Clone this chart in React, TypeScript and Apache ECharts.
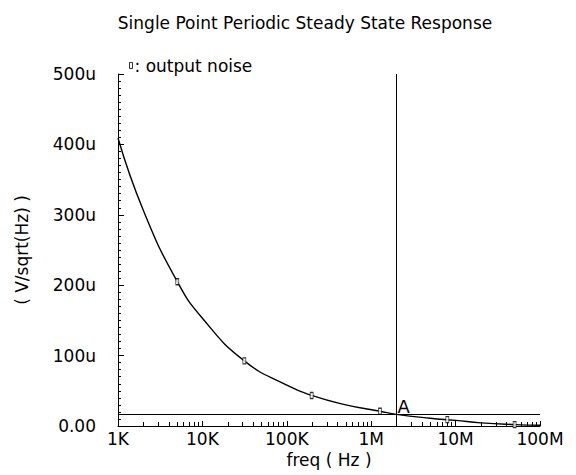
import React, { useEffect, useRef } from "react";
import * as echarts from "echarts";

// frequency (Hz) and output noise (uV/sqrt(Hz))
const curveFreq = [1e3, 2e3, 5.04e3, 1e4, 3.14e4, 1e5, 1.97e5, 5e5, 1.27e6, 2e6, 5e6, 1e7, 2e7, 5e7, 1e8];
const curveNoise = [409, 306, 205, 153, 92.5, 58, 43.4, 30, 21, 16.5, 11, 8, 4.5, 2, 1];
const markerFreq = [5.04e3, 3.14e4, 1.97e5, 1.27e6, 7.98e6, 5e7];
const markerNoise = [205, 92.5, 43.4, 21, 9, 2];
const cursorFreq = 2e6;
const cursorNoise = 16;
const xTickValues = [1e3, 1e4, 1e5, 1e6, 1e7, 1e8];
const xTickLabels = ["1K", "10K", "100K", "1M", "10M", "100M"];

const FONT = "DejaVu Sans";

export default function App() {
  const ref = useRef<HTMLDivElement>(null);
  useEffect(() => {
    if (!ref.current) return;
    const chart = echarts.init(ref.current, undefined, { renderer: "svg" });
    const curve = curveFreq.map((f, i) => [f, curveNoise[i]]);
    const markers = markerFreq.map((f, i) => [f, markerNoise[i]]);
    chart.setOption({
      animation: false,
      backgroundColor: "#ffffff",
      title: {
        text: "Single Point Periodic Steady State Response",
        left: 300,
        top: 9,
        textAlign: "center",
        textStyle: { fontFamily: FONT, fontSize: 17, fontWeight: "normal", color: "#000" },
      },
      legend: {
        data: ["output noise"],
        left: 124,
        top: 52,
        icon: "rect",
        itemWidth: 3,
        itemHeight: 6,
        itemGap: 2,
        formatter: (name: string) => ": " + name,
        itemStyle: { color: "#fff", borderColor: "#000", borderWidth: 1 },
        textStyle: { fontFamily: FONT, fontSize: 17, color: "#000", padding: [0, 0, 0, -3] },
      },
      grid: { left: 118, right: 36, top: 74, bottom: 49 },
      xAxis: {
        type: "log",
        logBase: 10,
        min: 1e3,
        max: 1e8,
        name: "freq ( Hz )",
        nameLocation: "middle",
        nameGap: 24,
        nameTextStyle: { fontFamily: FONT, fontSize: 17, color: "#000" },
        axisLine: { lineStyle: { color: "#000", width: 1 } },
        axisTick: { inside: true, length: 5, lineStyle: { color: "#000" } },
        minorTick: { show: true, splitNumber: 9, length: 4, lineStyle: { color: "#000" } },
        splitLine: { show: false },
        axisLabel: {
          fontFamily: FONT,
          fontSize: 17,
          color: "#000",
          margin: 4,
          formatter: (v: number) => {
            const i = xTickValues.findIndex((t) => Math.abs(t - v) / t < 1e-6);
            return i >= 0 ? xTickLabels[i] : "";
          },
        },
      },
      yAxis: {
        type: "value",
        min: 0,
        max: 500,
        interval: 100,
        name: "( V/sqrt(Hz) )",
        nameLocation: "middle",
        nameGap: 88,
        nameTextStyle: { fontFamily: FONT, fontSize: 17, color: "#000" },
        axisLine: { show: true, lineStyle: { color: "#000", width: 1 } },
        axisTick: { show: true, inside: true, length: 6, lineStyle: { color: "#000" } },
        minorTick: { show: true, splitNumber: 10, length: 3, lineStyle: { color: "#000" } },
        splitLine: { show: false },
        axisLabel: {
          fontFamily: FONT,
          fontSize: 17,
          color: "#000",
          margin: 22,
          formatter: (v: number) => (v === 0 ? "0.00" : v + "u"),
        },
      },
      series: [
        {
          name: "noise curve",
          type: "line",
          data: curve,
          smooth: 0.5,
          showSymbol: false,
          lineStyle: { color: "#000", width: 1.4 },
          markLine: {
            silent: true,
            symbol: "none",
            label: { show: false },
            lineStyle: { color: "#000", width: 1, type: "solid" },
            data: [{ xAxis: cursorFreq }, { yAxis: cursorNoise }],
          },
          markPoint: {
            symbol: "circle",
            symbolSize: 1,
            itemStyle: { color: "rgba(0,0,0,0)" },
            label: {
              show: true,
              formatter: "A",
              position: "top",
              distance: 0,
              offset: [7, 1],
              fontFamily: FONT,
              fontSize: 18,
              color: "#000",
            },
            data: [{ coord: [cursorFreq, cursorNoise] }],
          },
        },
        {
          name: "output noise",
          type: "scatter",
          data: markers,
          symbol: "rect",
          symbolSize: [3, 6],
          itemStyle: { color: "#fff", borderColor: "#000", borderWidth: 1 },
          z: 5,
        },
      ],
    });
    return () => chart.dispose();
  }, []);
  return <div ref={ref} style={{ position: "fixed", left: 0, top: 0, width: 576, height: 475 }} />;
}
